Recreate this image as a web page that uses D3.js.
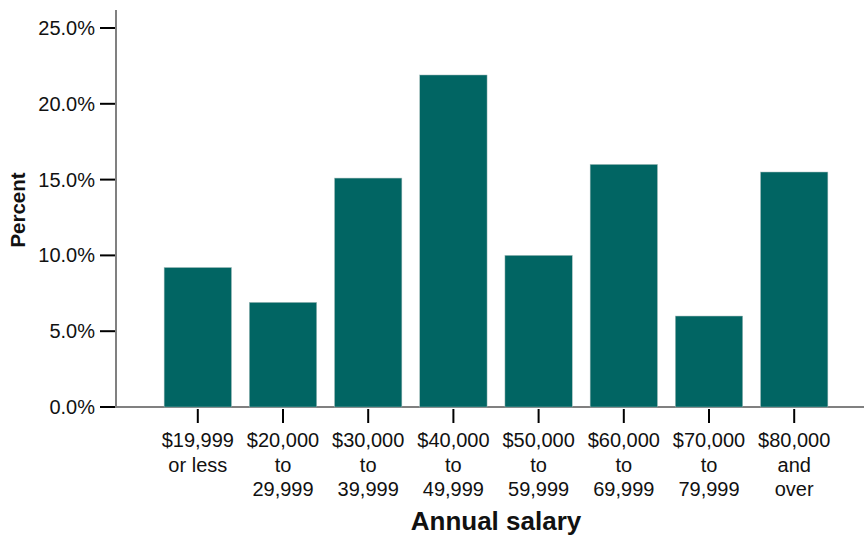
<!DOCTYPE html>
<html>
<head>
<meta charset="utf-8">
<script src="https://cdn.jsdelivr.net/npm/d3@7"></script>
<style>
    body { margin: 0; background: #fff; }
    text { font-family: "Liberation Sans", Arial, sans-serif; fill: #111; }
</style>
</head>
<body>
<svg id="chart" width="864" height="540"></svg>
<script>
// salary brackets (each label split into lines)
const categories = [
    ["$19,999", "or less"],
    ["$20,000", "to", "29,999"],
    ["$30,000", "to", "39,999"],
    ["$40,000", "to", "49,999"],
    ["$50,000", "to", "59,999"],
    ["$60,000", "to", "69,999"],
    ["$70,000", "to", "79,999"],
    ["$80,000", "and", "over"]
];
const percents = [9.2, 6.9, 15.1, 21.9, 10.0, 16.0, 6.0, 15.5];
const yTicks = [0, 5, 10, 15, 20, 25];

const svg = d3.select('#chart');

const plot = { left: 116, right: 864, top: 10, bottom: 407 };

let keys = categories.map(c => c.join(' '));

let x = d3.scaleBand()
    .domain(keys)
    .range([112, 880])
    .paddingInner(0.21)
    .paddingOuter(0.612);

let y = d3.scaleLinear()
    .domain([0, 25])
    .range([plot.bottom, 28]);

// axis lines (gray)
svg.append('line')
    .attr('x1', plot.left).attr('x2', plot.left)
    .attr('y1', plot.top).attr('y2', plot.bottom + 1)
    .attr('stroke', '#808080').attr('stroke-width', 2);

svg.append('line')
    .attr('x1', plot.left).attr('x2', plot.right)
    .attr('y1', plot.bottom).attr('y2', plot.bottom)
    .attr('stroke', '#808080').attr('stroke-width', 2);

// y ticks + labels
let yg = svg.append('g');
yg.selectAll('line').data(yTicks).enter().append('line')
    .attr('x1', 100).attr('x2', 115)
    .attr('y1', d => y(d)).attr('y2', d => y(d))
    .attr('stroke', '#000').attr('stroke-width', 2);

yg.selectAll('text').data(yTicks).enter().append('text')
    .attr('x', 95)
    .attr('y', d => y(d))
    .attr('dy', '0.35em')
    .attr('text-anchor', 'end')
    .style('font-size', '20px')
    .text(d => d3.format('.1f')(d) + '%');

// bars
svg.append('g').selectAll('rect')
    .data(percents).enter().append('rect')
    .attr('x', (d, i) => x(keys[i]))
    .attr('width', x.bandwidth())
    .attr('y', d => y(d))
    .attr('height', d => y(0) - y(d))
    .attr('fill', '#016563')
    .attr('stroke', '#9fb9b8')
    .attr('stroke-width', 0.5);

// x ticks + multi line labels
let xg = svg.append('g').selectAll('g')
    .data(categories).enter().append('g')
    .attr('transform', (d, i) => `translate(${x(keys[i]) + x.bandwidth() / 2},0)`);

xg.append('line')
    .attr('y1', 409).attr('y2', 423)
    .attr('stroke', '#000').attr('stroke-width', 2);

xg.append('text')
    .attr('text-anchor', 'middle')
    .style('font-size', '20px')
    .selectAll('tspan')
    .data(d => d).enter().append('tspan')
    .attr('x', 0)
    .attr('y', (d, i) => 447 + i * 24.5)
    .text(d => d);

// axis titles
svg.append('text')
    .attr('x', 496).attr('y', 530)
    .attr('text-anchor', 'middle')
    .style('font-size', '26px')
    .style('font-weight', 'bold')
    .text('Annual salary');

svg.append('text')
    .attr('transform', 'translate(25,210) rotate(-90)')
    .attr('text-anchor', 'middle')
    .style('font-size', '20.5px')
    .style('font-weight', 'bold')
    .text('Percent');
</script>
</body>
</html>
